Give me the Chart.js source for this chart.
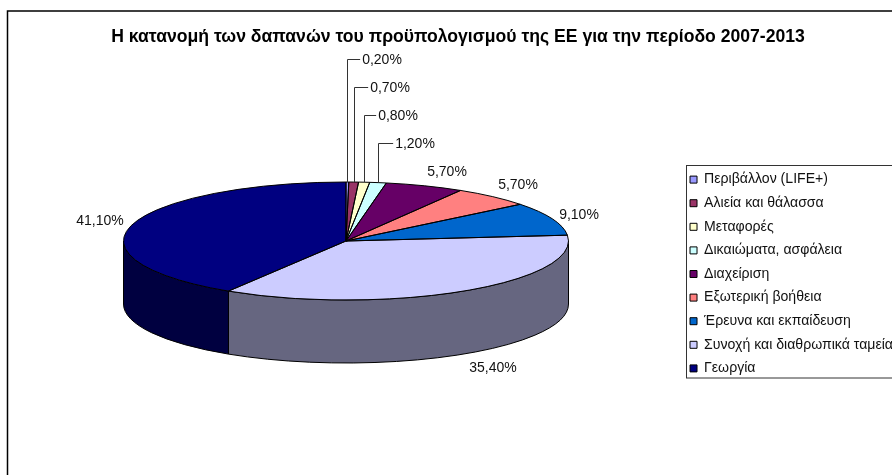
<!DOCTYPE html>
<html lang="el"><head><meta charset="utf-8">
<style>html,body{margin:0;padding:0;width:892px;height:475px;overflow:hidden;background:#fff}canvas{display:block}</style>
<script src="https://cdn.jsdelivr.net/npm/chart.js@4"></script>
</head><body><canvas id="c" width="903" height="548"></canvas>
<script>
const titleText = 'Η κατανομή των δαπανών του προϋπολογισμού της ΕΕ για την περίοδο 2007-2013';
const categories = ['Περιβάλλον (LIFE+)','Αλιεία και θάλασσα','Μεταφορές','Δικαιώματα, ασφάλεια','Διαχείριση','Εξωτερική βοήθεια','Έρευνα και εκπαίδευση','Συνοχή και διαθρωπικά ταμεία','Γεωργία'];
const shares = [0.2,0.7,0.8,1.2,5.7,5.7,9.1,35.4,41.1];
const topColors = ['#9999FF','#993366','#FFFFCC','#CCFFFF','#660066','#FF8080','#0066CC','#CCCCFF','#000080'];
const sideColors = ['#4D4D80','#4D1A33','#808066','#668080','#330033','#804040','#003366','#666680','#000040'];
// text anchor of each value label (centre x, centre y); leader = label joined to its slice by a line
const labelSpots = [[382,60],[390,88],[398,116],[415,144],[447,172],[518,185],[579,215],[493,368],[100,221]];
const hasLeader = [true,true,true,true,false,false,false,false,false];

const FONT = '"Liberation Sans", Arial, sans-serif';
const CX=346, CY=241, RX=222.5, RY=59, DEPTH=63;

function ellipsePoint(a){return [CX+RX*Math.cos(a), CY+RY*Math.sin(a)];}

const pie3d = {
  id:'pie3d',
  beforeDraw(chart){
    const c=chart.ctx;
    c.save();
    c.fillStyle='#fff';c.fillRect(0,0,chart.width,chart.height);
    c.strokeStyle='#000';c.lineWidth=1.5;
    c.strokeRect(7.5,11,chart.width+40,chart.height+40);
    c.lineWidth=1;c.strokeStyle='#333';
    c.strokeRect(686.5,165.5,chart.width+40,212.5);
    c.restore();
  },
  beforeDatasetsDraw(chart){
    const c=chart.ctx, arcs=chart.getDatasetMeta(0).data;
    // side wall: front half of each slice
    c.save();
    arcs.forEach((el,i)=>{
      const a0=Math.max(el.startAngle,0), a1=Math.min(el.endAngle,Math.PI);
      if(a1<=a0) return;
      c.beginPath();
      c.ellipse(CX,CY,RX,RY,0,a0,a1,false);
      c.ellipse(CX,CY+DEPTH,RX,RY,0,a1,a0,true);
      c.closePath();
      c.fillStyle=sideColors[i];c.fill();
      c.strokeStyle='#000';c.lineWidth=1;c.stroke();
    });
    c.restore();
    // flatten the library's own pie into the tilted ellipse
    const el=arcs[0], R=el.outerRadius;
    c.save();
    c.translate(CX,CY);c.scale(RX/R,RY/R);c.translate(-el.x,-el.y);
  },
  afterDatasetsDraw(chart){
    const c=chart.ctx, arcs=chart.getDatasetMeta(0).data;
    c.restore();
    c.save();
    c.strokeStyle='#000';c.lineWidth=1;c.lineJoin='round';
    arcs.forEach(el=>{
      c.beginPath();c.moveTo(CX,CY);
      c.ellipse(CX,CY,RX,RY,0,el.startAngle,el.endAngle,false);
      c.closePath();c.stroke();
    });
    // value labels and leaders
    c.font='14px '+FONT;c.textBaseline='middle';c.textAlign='center';
    arcs.forEach((el,i)=>{
      const [tx,ty]=labelSpots[i];
      const text=shares[i].toFixed(2).replace('.',',')+'%';
      c.fillStyle='#111';c.fillText(text,tx,ty);
      if(hasLeader[i]){
        const w=c.measureText(text).width;
        const mid=(el.startAngle+el.endAngle)/2, p=ellipsePoint(mid);
        const lx=Math.round(p[0])+.5, ly=Math.round(ty)-.5;
        c.beginPath();c.moveTo(lx,p[1]);c.lineTo(lx,ly);c.lineTo(tx-w/2-2,ly);
        c.strokeStyle='#333';c.stroke();
      }
    });
    c.restore();
  }
};

new Chart(document.getElementById('c'),{
  type:'pie',
  data:{labels:categories,datasets:[{data:shares,backgroundColor:topColors,borderWidth:0,clip:false}]},
  options:{
    responsive:false,animation:false,
    layout:{padding:{left:13,right:0,top:0,bottom:0}},
    plugins:{
      tooltip:{enabled:false},
      title:{display:true,text:titleText,color:'#000',
        font:{family:FONT,size:17.6,weight:'bold'},padding:{top:27,bottom:8}},
      legend:{position:'right',align:'center',
        labels:{boxWidth:7,boxHeight:7,padding:9.5,color:'#111',font:{family:FONT,size:14.1},
          generateLabels(chart){
            return Chart.overrides.pie.plugins.legend.labels.generateLabels(chart).map(l=>Object.assign(l,{strokeStyle:'#000',lineWidth:1}));
          }}}
    }
  },
  plugins:[pie3d]
});
</script></body></html>
